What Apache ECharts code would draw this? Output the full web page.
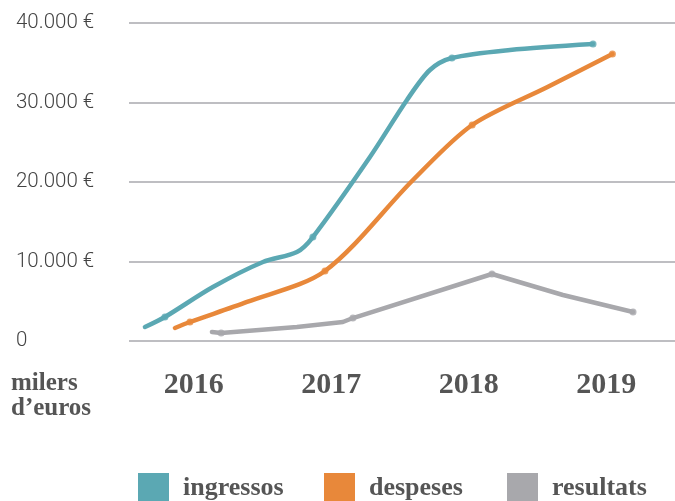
<!DOCTYPE html>
<html>
<head>
<meta charset="utf-8">
<script src="https://cdn.jsdelivr.net/npm/echarts@6/dist/echarts.min.js"></script>
<style>
html, body { margin: 0; padding: 0; background: #fff; }
#chart { width: 675px; height: 501px; }
</style>
</head>
<body>
<div id="chart"></div>
<script>
var years = ['2016', '2017', '2018', '2019'];
var yTickLabels = ['0', '10.000 €', '20.000 €', '30.000 €', '40.000 €'];

// traced path of each line (x in years, y in euros)
var ingressosX = [2015.646, 2015.791, 2016.14, 2016.504, 2016.751, 2016.867, 2017.282, 2017.551, 2017.718, 2017.878, 2018.3, 2018.904];
var ingressosY = [1760, 3020, 6790, 9940, 11200, 13080, 23150, 30320, 34090, 35600, 36610, 37360];
var despesesX = [2015.864, 2015.973, 2016.388, 2016.955, 2017.595, 2018.025, 2018.573, 2019.045];
var despesesY = [1640, 2390, 4910, 8810, 20250, 27170, 31950, 36100];
var resultatsX = [2016.133, 2016.2, 2016.751, 2017.085, 2017.158, 2018.169, 2018.685, 2019.195];
var resultatsY = [1130, 1010, 1760, 2390, 2890, 8430, 5790, 3650];

// the small dots on each line
var ingressosDotX = [2015.791, 2016.867, 2017.878, 2018.904];
var ingressosDotY = [3020, 13080, 35600, 37360];
var despesesDotX = [2015.973, 2016.955, 2018.025, 2019.045];
var despesesDotY = [2390, 8810, 27170, 36100];
var resultatsDotX = [2016.2, 2017.158, 2018.169, 2019.195];
var resultatsDotY = [1010, 2890, 8430, 3650];

var colors = {ingressos: '#5BA8B3', despeses: '#E8883A', resultats: '#A8A8AC'};
var serif = '"Liberation Serif", "DejaVu Serif", serif';

var pairs = function(xs, ys){
	var arr = [];
	xs.forEach(function(x, i){
		arr.push([x, ys[i]]);
	})
	return arr;
}

var lineSeries = function(name, xs, ys, smooth){
	return {
		name: name,
		type: 'line',
		xAxisIndex: 0,
		yAxisIndex: 0,
		data: pairs(xs, ys),
		smooth: smooth,
		symbol: 'none',
		color: colors[name],
		lineStyle: {width: 4.5, color: colors[name], cap: 'round', join: 'round'},
		z: 3
	}
}

var dotSeries = function(name, xs, ys){
	return {
		name: name + '-punts',
		type: 'scatter',
		xAxisIndex: 0,
		yAxisIndex: 0,
		data: pairs(xs, ys),
		symbol: 'circle',
		symbolSize: 7,
		itemStyle: {color: colors[name]},
		z: 4
	}
}

var legendFor = function(name, left){
	return {
		data: [name],
		left: left,
		top: 473,
		padding: 0,
		icon: 'rect',
		itemWidth: 31,
		itemHeight: 30,
		selectedMode: false,
		textStyle: {
			fontFamily: serif,
			fontWeight: 'bold',
			fontSize: 26,
			lineHeight: 26,
			color: '#555',
			padding: [0, 0, 0, 9]
		}
	}
}

var chart = echarts.init(document.getElementById('chart'));
var option = {
	animation: false,
	backgroundColor: '#fff',
	grid: [
		{left: 129, right: 0, top: 23, bottom: 160},
		{left: 125, right: 0, top: 23, bottom: 160}
	],
	legend: [
		legendFor('ingressos', 138),
		legendFor('despeses', 324),
		legendFor('resultats', 507)
	],
	xAxis: [
		{
			type: 'value',
			gridIndex: 0,
			min: 2015.53,
			max: 2019.5,
			show: false
		},
		{
			type: 'category',
			gridIndex: 1,
			data: years,
			axisLine: {show: false},
			axisTick: {show: false},
			splitLine: {show: false},
			axisLabel: {
				margin: 29,
				fontFamily: serif,
				fontWeight: 'bold',
				fontSize: 30,
				color: '#555'
			}
		}
	],
	yAxis: [
		{
			type: 'value',
			gridIndex: 0,
			min: 0,
			max: 40000,
			interval: 10000,
			axisLine: {show: false},
			axisTick: {show: false},
			splitLine: {lineStyle: {color: '#BEBEC2', width: 2}},
			axisLabel: {
				align: 'left',
				margin: 113,
				fontFamily: 'Roboto',
				fontWeight: 300,
				fontSize: 20.5,
				color: '#444',
				formatter: function(v){
					return yTickLabels[Math.round(v / 10000)];
				}
			}
		},
		{
			type: 'value',
			gridIndex: 1,
			show: false
		}
	],
	graphic: [{
		type: 'text',
		left: 11,
		top: 371,
		style: {
			text: 'milers\nd’euros',
			fontFamily: serif,
			fontWeight: 'bold',
			fontSize: 25,
			lineHeight: 25,
			fill: '#555'
		}
	}],
	series: [
		lineSeries('ingressos', ingressosX, ingressosY, 0.3),
		lineSeries('despeses', despesesX, despesesY, 0.3),
		lineSeries('resultats', resultatsX, resultatsY, false),
		dotSeries('ingressos', ingressosDotX, ingressosDotY),
		dotSeries('despeses', despesesDotX, despesesDotY),
		dotSeries('resultats', resultatsDotX, resultatsDotY)
	]
};
chart.setOption(option);
</script>
</body>
</html>
